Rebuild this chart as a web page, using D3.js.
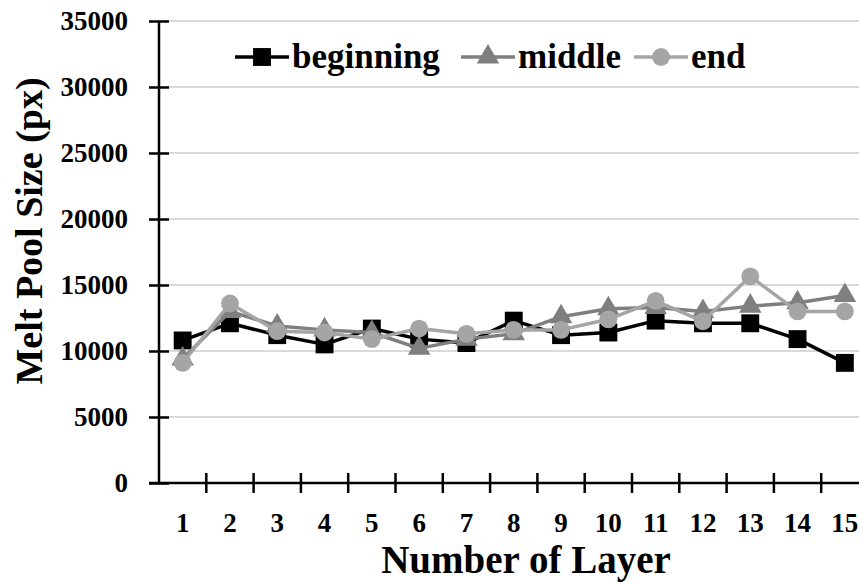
<!DOCTYPE html>
<html><head><meta charset="utf-8">
<script src="https://cdn.jsdelivr.net/npm/d3@7"></script>
<style>body{margin:0;background:#fff}svg{display:block}</style>
</head><body>
<svg id="c" width="859" height="582"></svg>
<script>
const layers = [1,2,3,4,5,6,7,8,9,10,11,12,13,14,15];
const beginning = [10800,12100,11200,10500,11700,10900,10600,12300,11200,11400,12300,12100,12100,10900,9100];
const middle    = [9400,13000,11900,11600,11400,10200,10900,11300,12600,13200,13300,13000,13400,13650,14200];
const endVals   = [9100,13600,11500,11400,10900,11700,11300,11600,11600,12400,13800,12250,15650,13000,13000];
const yTicks = [0,5000,10000,15000,20000,25000,30000,35000];
const seriesNames = ["beginning","middle","end"];
const seriesColors = ["#000000","#7f7f7f","#a5a5a5"];
const seriesShapes = [d3.symbolSquare, d3.symbolTriangle, d3.symbolCircle];

const FONT = "'Liberation Serif', 'Times New Roman', serif";
const svg = d3.select("#c");
const x = d3.scaleBand().domain(layers).range([159, 159 + 15*47.3]).padding(0);
const y = d3.scaleLinear().domain([0,35000]).range([483, 21]);

// grid
svg.append("g").selectAll("line").data(yTicks.filter(d=>d>0)).join("line")
  .attr("x1",159).attr("x2",859).attr("y1",d=>y(d)).attr("y2",d=>y(d))
  .attr("stroke","#d9d9d9").attr("stroke-width",2);

// y axis
const yAxis = svg.append("g").attr("transform","translate(159,0)")
  .call(d3.axisLeft(y).tickValues(yTicks).tickSize(10).tickPadding(21).tickFormat(d3.format("d")));
yAxis.select(".domain").remove();
yAxis.append("line").attr("x1",0).attr("x2",0).attr("y1",y(35000)).attr("y2",y(0)).attr("stroke","#000").attr("stroke-width",2.5);
yAxis.selectAll(".tick line").attr("x1",-10).attr("x2",10).attr("stroke","#000").attr("stroke-width",2.5);
yAxis.selectAll(".tick text").attr("font-family",FONT).attr("font-weight","bold").attr("font-size",27).attr("fill","#000");

// x axis
const xAxis = svg.append("g").attr("transform","translate(0,483)")
  .call(d3.axisBottom(x).tickSize(0));
xAxis.select(".domain").remove();
xAxis.append("line").attr("x1",149).attr("x2",859).attr("y1",0).attr("y2",0).attr("stroke","#000").attr("stroke-width",2.5);
xAxis.selectAll(".tick text").attr("y",40).attr("dy","0.35em")
  .attr("font-family",FONT).attr("font-weight","bold").attr("font-size",27).attr("fill","#000");
// band boundary ticks
xAxis.append("g").selectAll("line").data(layers.slice(1)).join("line")
  .attr("x1",d=>x(d)).attr("x2",d=>x(d)).attr("y1",-10).attr("y2",10)
  .attr("stroke","#000").attr("stroke-width",2.5);

// series
const allSeries = [beginning, middle, endVals];
const sizes = [320, 220, 250];
const cx = d => x(d) + x.bandwidth()/2;
allSeries.forEach((vals,i)=>{
  const g = svg.append("g");
  const line = d3.line().x((d,j)=>cx(layers[j])).y(d=>y(d));
  g.append("path").attr("d",line(vals)).attr("fill","none")
    .attr("stroke",seriesColors[i]).attr("stroke-width",3.5).attr("stroke-linejoin","round");
  g.selectAll("path.m").data(vals).join("path").attr("class","m")
    .attr("d",d3.symbol().type(seriesShapes[i]).size(sizes[i]))
    .attr("transform",(d,j)=>`translate(${cx(layers[j])},${y(d)})`)
    .attr("fill",seriesColors[i]);
});

// legend
const legX = [235, 461, 634];
const legY = 57;
seriesNames.forEach((name,i)=>{
  const g = svg.append("g");
  g.append("line").attr("x1",legX[i]).attr("x2",legX[i]+54).attr("y1",legY).attr("y2",legY)
    .attr("stroke",seriesColors[i]).attr("stroke-width",3.5);
  g.append("path").attr("d",d3.symbol().type(seriesShapes[i]).size(sizes[i]))
    .attr("transform",`translate(${legX[i]+27},${legY})`).attr("fill",seriesColors[i]);
  g.append("text").attr("x",legX[i]+57).attr("y",legY).attr("dy","0.3em")
    .attr("font-family",FONT).attr("font-weight","bold").attr("font-size",35).attr("fill","#000").text(name);
});

// axis titles
svg.append("text").attr("x",526).attr("y",573).attr("text-anchor","middle")
  .attr("font-family",FONT).attr("font-weight","bold").attr("font-size",39).text("Number of Layer");
svg.append("text").attr("transform","translate(42,231) rotate(-90)").attr("text-anchor","middle")
  .attr("font-family",FONT).attr("font-weight","bold").attr("font-size",38).text("Melt Pool Size (px)");
</script>
</body></html>
